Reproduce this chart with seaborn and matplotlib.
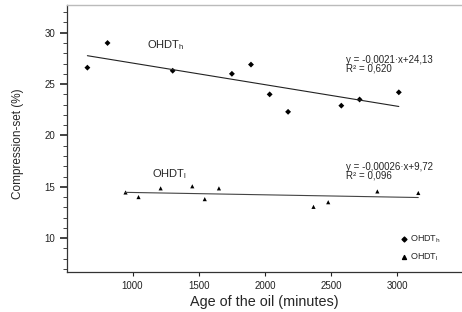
import matplotlib
matplotlib.use("Agg")
import matplotlib.pyplot as plt
from matplotlib.ticker import MultipleLocator
import pandas as pd
import seaborn as sns

# OHDT_h (upper series)
age_h = [659, 811, 1303, 1750, 1894, 2035, 2174, 2576, 2714, 3010]
cs_h = [26.6, 29.0, 26.3, 26.0, 26.9, 24.0, 22.3, 22.9, 23.5, 24.2]
# OHDT_l (lower series)
age_l = [947, 1045, 1212, 1451, 1545, 1652, 2366, 2477, 2848, 3157]
cs_l = [14.45, 14.0, 14.85, 15.05, 13.8, 14.85, 13.05, 13.5, 14.55, 14.4]

eq_h = "y = -0,0021·x+24,13\nR² = 0,620"
eq_l = "y = -0,00026·x+9,72\nR² = 0,096"

df = pd.concat([
    pd.DataFrame({"age": age_h, "cs": cs_h, "series": "OHDTh"}),
    pd.DataFrame({"age": age_l, "cs": cs_l, "series": "OHDTl"}),
])

sns.set_style("white")
plt.rcParams['font.family'] = ['Liberation Sans', 'DejaVu Sans']

fig = plt.figure(figsize=(4.62, 3.12), dpi=100)
ax = fig.add_axes([0.145, 0.128, 0.853, 0.856])

sns.scatterplot(data=df, x="age", y="cs", hue="series", style="series",
                markers={"OHDTh": "D", "OHDTl": "^"},
                palette={"OHDTh": "black", "OHDTl": "black"},
                s=9, linewidth=0, ax=ax, legend=False)

sns.regplot(x=age_h, y=cs_h, scatter=False, ci=None, ax=ax,
            line_kws=dict(color="#222222", lw=0.8))
sns.regplot(x=age_l, y=cs_l, scatter=False, ci=None, ax=ax,
            line_kws=dict(color="#444444", lw=0.8))

ax.text(1109, 28.8, r"OHDT$_{\mathregular{h}}$", fontsize=8, va="center")
ax.text(1147, 16.2, r"OHDT$_{\mathregular{l}}$", fontsize=8, va="center")
ax.text(2611, 26.9, eq_h, fontsize=7, va="center", linespacing=0.85)
ax.text(2611, 16.5, eq_l, fontsize=7, va="center", linespacing=0.85)

# legend, unframed, lower right
ax.scatter([], [], marker="D", s=6, color="black", label=r"OHDT$_{\mathregular{h}}$")
ax.scatter([], [], marker="^", s=8, color="black", label=r"OHDT$_{\mathregular{l}}$")
ax.legend(loc="lower left", bbox_to_anchor=(0.825, 0.01), frameon=False,
          fontsize=6.5, handletextpad=0.1, labelspacing=0.7, handlelength=1.2,
          borderpad=0.2)

ax.set_xlim(505, 3480)
ax.set_ylim(6.7, 32.7)
ax.set_xticks([1000, 1500, 2000, 2500, 3000])
ax.set_yticks([10, 15, 20, 25, 30])
ax.yaxis.set_minor_locator(MultipleLocator(1))
ax.tick_params(axis="both", labelsize=7, direction="out", length=3, width=0.8,
               bottom=True, left=True, colors="#222222")
ax.tick_params(axis="y", which="minor", length=3, width=0.6, left=True)
ax.tick_params(axis="y", which="major", length=5, width=1.2)

for side in ["left", "bottom"]:
    ax.spines[side].set_color("#333333")
    ax.spines[side].set_linewidth(0.9)
ax.spines["top"].set_color("#bbbbbb")
ax.spines["top"].set_linewidth(1.0)
ax.spines["right"].set_visible(False)

ax.set_xlabel("Age of the oil (minutes)", fontsize=10.4, labelpad=3)
ax.set_ylabel("Compression-set (%)", fontsize=8.5)
ax.yaxis.set_label_coords(-0.108, 0.48)

fig.savefig("out.png", dpi=100)
